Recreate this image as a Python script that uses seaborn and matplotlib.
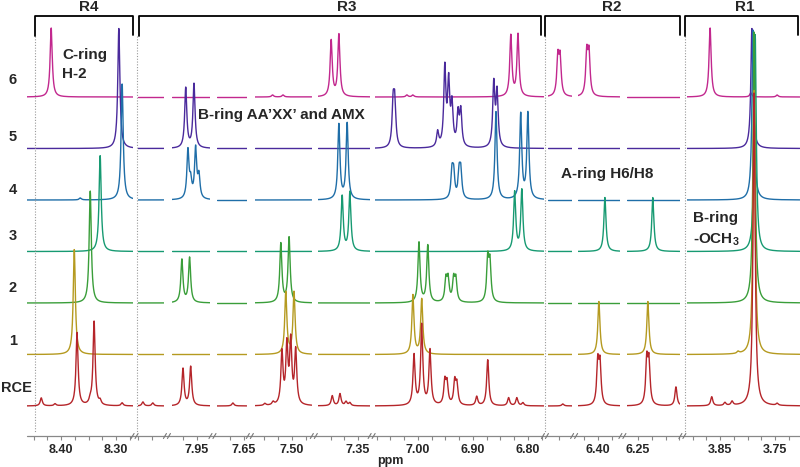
import numpy as np
import pandas as pd
import matplotlib
matplotlib.use('Agg')
import matplotlib.pyplot as plt
import seaborn as sns
from matplotlib.ticker import FixedLocator, MultipleLocator, FormatStrFormatter

sns.set_style('white')
plt.rcParams['font.family'] = ['Liberation Sans', 'DejaVu Sans']
plt.rcParams['mathtext.fontset'] = 'custom'
plt.rcParams['mathtext.bf'] = 'Liberation Sans:bold'
plt.rcParams['mathtext.rm'] = 'Liberation Sans:bold'

# spectra, top to bottom
samples = ['6', '5', '4', '3', '2', '1', 'RCE']
colors = ['#c2288e', '#4a2a9c', '#1f6ea8', '#179a72', '#3a9e3a', '#b59a20', '#b5252a']

# peak lists: (chemical shift in ppm, peak height)
peaks_6 = [(8.418, 69), (7.535, 2), (7.516, 2), (7.399, 56), (7.385, 62),
           (7.020, 2), (7.009, 2), (6.831, 61), (6.818, 62), (6.502, 38),
           (6.498, 37), (6.420, 42), (6.416, 41), (3.868, 69), (3.794, 4), (3.746, 2)]
peaks_5 = [(8.295, 120), (7.970, 60), (7.955, 64), (7.045, 42), (7.042, 42),
           (6.964, 15), (6.951, 78), (6.944, 62), (6.938, 40), (6.927, 32),
           (6.922, 35), (6.862, 63), (6.856, 54), (3.792, 120)]
peaks_4 = [(8.365, 2), (8.289, 116), (7.966, 48), (7.961, 16), (7.952, 50),
           (7.946, 22), (7.385, 75), (7.370, 76), (6.938, 26), (6.935, 24),
           (6.925, 25), (6.922, 26), (6.858, 88), (6.813, 85), (6.800, 86), (3.790, 170)]
peaks_3 = [(8.329, 96), (7.379, 55), (7.365, 59), (6.824, 59), (6.811, 61),
           (6.387, 54), (6.223, 54), (3.786, 217)]
peaks_2 = [(8.347, 112), (7.977, 43), (7.963, 45), (7.520, 59), (7.505, 65),
           (6.998, 60), (6.982, 57), (6.949, 22), (6.945, 22), (6.935, 22),
           (6.931, 22), (6.873, 42), (6.869, 38), (3.788, 271)]
peaks_1 = [(8.376, 105), (7.511, 62), (7.496, 62), (7.009, 59), (6.993, 55),
           (6.398, 53), (6.232, 53), (3.817, 2), (3.788, 264)]
peaks_rce = [(8.436, 8), (8.411, 2), (8.371, 73), (8.347, 4), (8.340, 84),
             (8.329, 4), (8.289, 3), (8.091, 4), (8.073, 3), (7.975, 37),
             (7.961, 39), (7.670, 3), (7.549, 2), (7.534, 3), (7.518, 52),
             (7.509, 58), (7.502, 62), (7.493, 54), (7.397, 10), (7.383, 12),
             (7.372, 4), (7.365, 3), (7.007, 50), (6.993, 80), (6.978, 55),
             (6.951, 23), (6.947, 21), (6.933, 23), (6.929, 20), (6.893, 9),
             (6.873, 46), (6.835, 8), (6.820, 8), (6.809, 3), (6.493, 2),
             (6.400, 42), (6.396, 40), (6.234, 44), (6.230, 42), (6.181, 19),
             (3.865, 9), (3.841, 3), (3.828, 4), (3.788, 313), (3.746, 2)]
all_peaks = [peaks_6, peaks_5, peaks_4, peaks_3, peaks_2, peaks_1, peaks_rce]

# broken x axis: ppm window of each piece and its labelled ticks
seg_ppm = [(8.462, 8.269), (8.100, 8.053), (7.995, 7.926), (7.699, 7.645),
           (7.567, 7.464), (7.423, 7.328), (7.078, 6.771), (6.520, 6.476),
           (6.436, 6.360), (6.270, 6.174), (3.910, 3.705)]
seg_ticks = [[8.40, 8.30], [], [7.95], [7.65], [7.50], [7.35],
             [7.00, 6.90, 6.80], [], [6.40], [6.25], [3.85, 3.75]]

regions = ['R4', 'R3', 'R2', 'R1']

# layout in pixels (800 x 467 figure)
W, H = 800, 467
PX_PER_PPM = 550
seg_left_px = [27, 138, 172, 217, 255, 318, 375, 548, 578, 627, 687]
axis_py = 436
hw = 0.0023  # lorentzian half width, ppm


def spectrum(x, plist, offset):
    y = np.full_like(x, offset, dtype=float)
    for p, h in plist:
        y += h * hw ** 2 / ((x - p) ** 2 + hw ** 2)
    return y


fig = plt.figure(figsize=(W / 100, H / 100), dpi=100)
palette = dict(zip(samples, colors))
offsets = [30 + 51.5 * (len(samples) - 1 - i) for i in range(len(samples))]

seg_right_px = []
for (p0, p1), left, ticks in zip(seg_ppm, seg_left_px, seg_ticks):
    width = (p0 - p1) * PX_PER_PPM
    seg_right_px.append(left + width)
    ax = fig.add_axes([left / W, (H - axis_py) / H, width / W, axis_py / H])
    ax.patch.set_visible(False)
    x = np.linspace(p1, p0, int(width * 10))
    rows = []
    for s, plist, off in zip(samples, all_peaks, offsets):
        rows.append(pd.DataFrame({'ppm': x, 'intensity': spectrum(x, plist, off), 'sample': s}))
    df = pd.concat(rows, ignore_index=True)
    sns.lineplot(data=df, x='ppm', y='intensity', hue='sample', hue_order=samples,
                 palette=palette, estimator=None, legend=False, linewidth=1.0, ax=ax)
    ax.set_xlim(p0, p1)
    ax.set_ylim(0, axis_py)
    ax.set_xlabel('')
    ax.set_ylabel('')
    ax.set_yticks([])
    for sp in ax.spines.values():
        sp.set_visible(False)
    ax.xaxis.set_major_locator(FixedLocator(ticks))
    ax.xaxis.set_major_formatter(FormatStrFormatter('%.2f'))
    ax.xaxis.set_minor_locator(MultipleLocator(0.025))
    ax.tick_params(axis='x', which='both', direction='out', length=3, width=0.8,
                   color='#888888', bottom=True, pad=3)
    ax.tick_params(axis='x', which='major', labelsize=9)
    for lab in ax.get_xticklabels():
        lab.set_fontweight('bold')

# overlay in pixel coordinates
ov = fig.add_axes([0, 0, 1, 1])
ov.patch.set_visible(False)
ov.set_xlim(0, W)
ov.set_ylim(H, 0)
ov.axis('off')

# axis line with break marks
ov.plot([27, W], [axis_py, axis_py], color='#888888', lw=0.9)
for r, l in zip(seg_right_px[:-1], seg_left_px[1:]):
    g = (r + l) / 2
    for dx in (-3, 1):
        ov.plot([g + dx - 1.5, g + dx + 1.5], [axis_py + 2.5, axis_py - 2.5], color='#777777', lw=0.8)

# dotted region dividers
for xd in [35, 137, 545, 685]:
    ov.plot([xd, xd], [36, axis_py - 3], color='#999999', lw=0.8, ls=(0, (1, 1.5)))

# region brackets
bracket_px = [(35, 133), (139, 541), (545, 680), (685, 798)]
bracket_label_px = [89, 347, 612, 745]
for (b0, b1), lx, name in zip(bracket_px, bracket_label_px, regions):
    ov.plot([b0, b0, b1, b1], [36, 16, 16, 35], color='black', lw=1.3)
    ov.text(lx, 7, name, ha='center', va='center', fontsize=11, fontweight='bold')

# sample labels
label_py = [80, 137, 190, 236, 288, 341, 388]
for s, py in zip(samples, label_py):
    if s == 'RCE':
        ov.text(1, py, s, ha='left', va='center', fontsize=10.5, fontweight='bold')
    else:
        ov.text(13, py, s, ha='center', va='center', fontsize=10.5, fontweight='bold')

# assignments
ov.text(62, 55, 'C-ring', ha='left', va='center', fontsize=11, fontweight='bold')
ov.text(62, 74, 'H-2', ha='left', va='center', fontsize=11, fontweight='bold')
ov.text(198, 115, 'B-ring AA\u2019XX\u2019 and AMX', ha='left', va='center', fontsize=11, fontweight='bold')
ov.text(561, 174, 'A-ring H6/H8', ha='left', va='center', fontsize=11, fontweight='bold')
ov.text(693, 218, 'B-ring', ha='left', va='center', fontsize=11, fontweight='bold')
ov.text(693, 240, r'-OCH$_\mathbf{3}$', ha='left', va='center', fontsize=11, fontweight='bold')

ov.text(390, 461, 'ppm', ha='center', va='center', fontsize=9, fontweight='bold')

fig.savefig('out.png', dpi=100)
